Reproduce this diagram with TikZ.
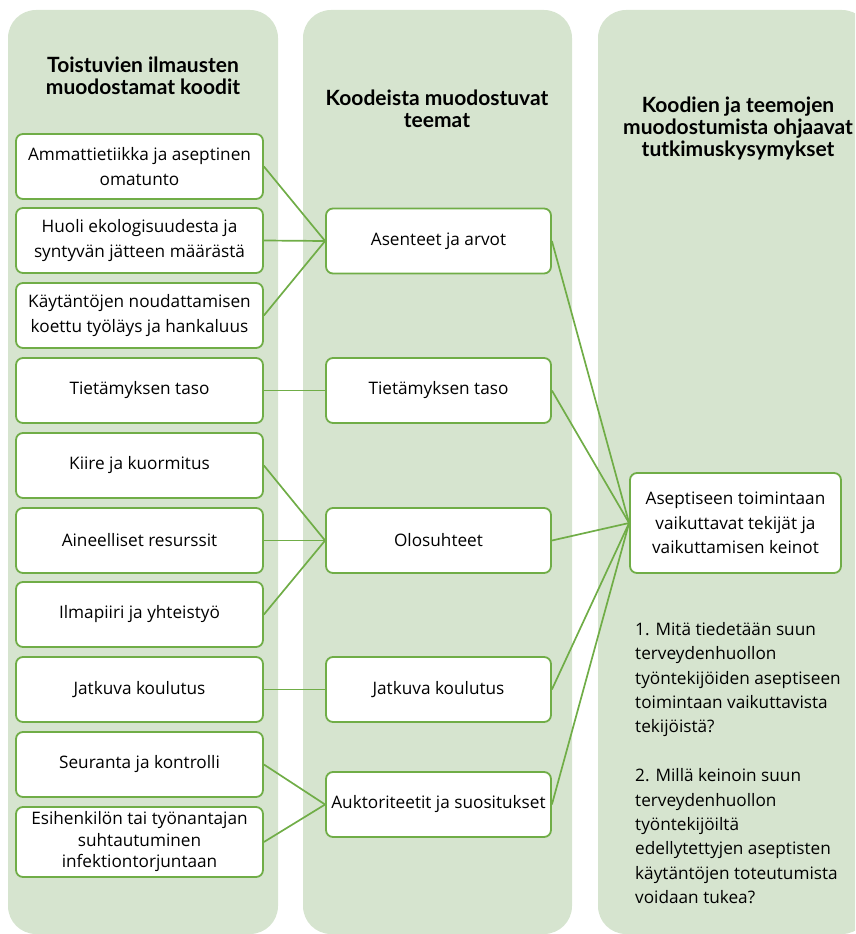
\documentclass[tikz,border=0pt]{standalone}
\usepackage{fontspec}
\setmainfont{Open Sans}
\newfontfamily\titlefont{Lato}
\usepackage{tikz}
\definecolor{panelgreen}{RGB}{214,228,207}
\definecolor{boxgreen}{RGB}{112,173,71}
\tikzset{
  panel/.style={fill=panelgreen, rounded corners=28pt},
  codebox/.style={draw=boxgreen, line width=1.8pt, fill=white, rounded corners=7pt,
    minimum width=247pt, minimum height=65pt, align=center, inner sep=0pt,
    font=\fontsize{17.2}{24.5}\selectfont},
  themebox/.style={codebox, minimum width=225pt},
  coltitle/.style={align=center, font=\titlefont\bfseries\fontsize{21}{22}\selectfont},
  link/.style={draw=boxgreen, line width=1.7pt}
}

\begin{document}
\begin{tikzpicture}[x=1pt, y=-1pt]
  \useasboundingbox (0,0) rectangle (855,934);
  \clip (0,0) rectangle (855,934);

  % background columns
  \fill[panel] (8,10) rectangle (278,934);
  \fill[panel] (303,10) rectangle (572,934);
  \fill[panel] (598,10) rectangle (870,934); % cut off at the right

  % column titles
  \node[coltitle] (title1) at (143,76) {Toistuvien ilmausten\\muodostamat koodit};
  \node[coltitle] (title2) at (437,109) {Koodeista muodostuvat\\teemat};
  \node[coltitle] (title3) at (738,128) {Koodien ja teemojen\\muodostumista ohjaavat\\tutkimuskysymykset};

  % codes
  \node[codebox] (ammatti) at (139.5,166.5) {Ammattietiikka ja aseptinen\\omatunto};
  \node[codebox] (huoli) at (139.5,240.5) {Huoli ekologisuudesta ja\\syntyvän jätteen määrästä};
  \node[codebox] (kaytanto) at (139.5,315.5) {Käytäntöjen noudattamisen\\koettu työläys ja hankaluus};
  \node[codebox] (tieto) at (139.5,390.5) {Tietämyksen taso};
  \node[codebox] (kiire) at (139.5,465.5) {Kiire ja kuormitus};
  \node[codebox] (resurssit) at (139.5,540.5) {Aineelliset resurssit};
  \node[codebox] (ilmapiiri) at (139.5,614.5) {Ilmapiiri ja yhteistyö};
  \node[codebox] (koulutus) at (139.5,689.5) {Jatkuva koulutus};
  \node[codebox] (seuranta) at (139.5,764.5) {Seuranta ja kontrolli};
  \node[codebox, minimum height=70pt, font=\fontsize{17.2}{21.5}\selectfont] (esihenkilo) at (139.5,842)
    {Esihenkilön tai työnantajan\\suhtautuminen\\infektiontorjuntaan};

  % themes
  \node[themebox] (asenteet) at (438.5,241) {Asenteet ja arvot};
  \node[themebox] (tasot) at (438.5,390.5) {Tietämyksen taso};
  \node[themebox] (olot) at (438.5,540.5) {Olosuhteet};
  \node[themebox] (jatkuva) at (438.5,689.5) {Jatkuva koulutus};
  \node[themebox] (auktor) at (438.5,804.5) {Auktoriteetit ja suositukset};

  % research question box
  \node[codebox, minimum width=211pt, minimum height=100pt] (tekijat) at (735.5,523) {Aseptiseen toimintaan\\vaikuttavat tekijät ja\\vaikuttamisen keinot};

  % questions
  \node[anchor=north west, align=left, inner sep=0pt, font=\fontsize{17.2}{24.4}\selectfont] (kysymykset) at (635,622)
    {1. Mitä tiedetään suun\\terveydenhuollon\\työntekijöiden aseptiseen\\toimintaan vaikuttavista\\tekijöistä?\\[24.4pt]
     2. Millä keinoin suun\\terveydenhuollon\\työntekijöiltä\\edellytettyjen aseptisten\\käytäntöjen toteutumista\\voidaan tukea?};

  % codes to themes
  \foreach \c in {ammatti, huoli, kaytanto}
    \draw[link] (\c.east) -- (asenteet.west);
  \draw[link] (tieto.east) -- (tasot.west);
  \foreach \c in {kiire, resurssit, ilmapiiri}
    \draw[link] (\c.east) -- (olot.west);
  \draw[link] (koulutus.east) -- (jatkuva.west);
  \foreach \c in {seuranta, esihenkilo}
    \draw[link] (\c.east) -- (auktor.west);

  % themes to research question
  \foreach \t in {asenteet, tasot, olot, jatkuva, auktor}
    \draw[link] (\t.east) -- (tekijat.west);
\end{tikzpicture}
\end{document}
